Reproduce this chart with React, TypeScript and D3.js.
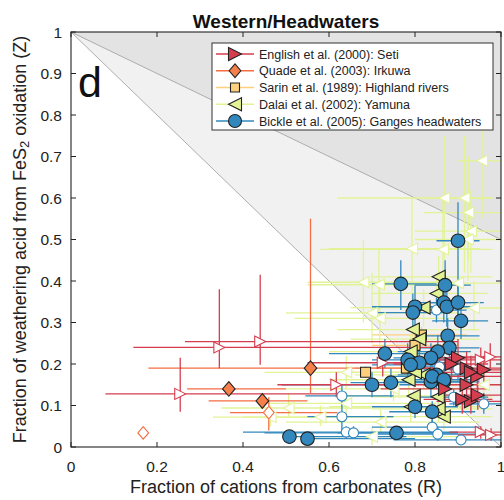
import React from "react";
import * as d3 from "d3";

// [R, Z, rLo, rHi, zLo, zHi]
type P = number[];

const englishFilled: P[] = [
  [0.90, 0.215, 0.80, 0.98, 0.17, 0.26],
  [0.92, 0.19, 0.78, 1.0, 0.15, 0.23],
  [0.96, 0.186, 0.88, 1.0, 0.15, 0.22],
  [0.945, 0.17, 0.85, 1.0, 0.13, 0.21],
  [0.93, 0.18, 0.82, 1.0, 0.14, 0.22],
  [0.92, 0.15, 0.80, 1.0, 0.11, 0.19],
  [0.93, 0.11, 0.85, 1.0, 0.08, 0.14],
  [0.91, 0.115, 0.82, 0.98, 0.08, 0.15],
  [0.946, 0.125, 0.86, 1.0, 0.09, 0.16],
  [0.885, 0.2, 0.75, 0.97, 0.16, 0.24],
  [0.87, 0.14, 0.72, 0.97, 0.1, 0.18],
];
const englishOpen: P[] = [
  [0.254, 0.128, 0.08, 0.62, 0.085, 0.215],
  [0.345, 0.24, 0.145, 0.85, 0.19, 0.38],
  [0.44, 0.254, 0.265, 0.9, 0.198, 0.415],
  [0.617, 0.15, 0.48, 0.75, 0.12, 0.18],
  [0.725, 0.203, 0.55, 0.9, 0.17, 0.24],
  [0.953, 0.21, 0.85, 1.0, 0.18, 0.24],
  [0.975, 0.217, 0.88, 1.0, 0.19, 0.25],
  [0.953, 0.036, 0.88, 1.0, 0.02, 0.05],
  [0.977, 0.029, 0.9, 1.0, 0.015, 0.045],
];
const quadeFilled: P[] = [
  [0.367, 0.14, 0.27, 0.5, 0.125, 0.155],
  [0.445, 0.111, 0.32, 0.55, 0.095, 0.125],
  [0.557, 0.19, 0.18, 0.85, 0.13, 0.55],
];
const quadeOpen: P[] = [
  [0.168, 0.034, 0.168, 0.168, 0.034, 0.034],
  [0.46, 0.083, 0.37, 0.62, 0.04, 0.12],
];
const sarinFilled: P[] = [
  [0.685, 0.18, 0.6, 0.78, 0.165, 0.195],
  [0.80, 0.245, 0.7, 0.9, 0.22, 0.27],
  [0.815, 0.27, 0.7, 0.92, 0.25, 0.29],
  [0.78, 0.19, 0.66, 0.9, 0.17, 0.21],
];
const dalaiFilled: P[] = [
  [0.855, 0.41, 0.7, 0.98, 0.36, 0.46],
  [0.85, 0.37, 0.7, 0.97, 0.32, 0.42],
  [0.82, 0.336, 0.65, 0.95, 0.29, 0.38],
  [0.795, 0.283, 0.62, 0.95, 0.24, 0.33],
  [0.81, 0.26, 0.65, 0.95, 0.22, 0.30],
  [0.79, 0.23, 0.6, 0.93, 0.19, 0.27],
  [0.785, 0.162, 0.6, 0.95, 0.12, 0.2],
  [0.797, 0.123, 0.62, 0.95, 0.09, 0.16],
  [0.79, 0.097, 0.6, 0.95, 0.06, 0.13],
  [0.853, 0.121, 0.7, 0.98, 0.09, 0.16],
  [0.867, 0.073, 0.72, 0.98, 0.04, 0.11],
  [0.855, 0.092, 0.7, 0.98, 0.06, 0.13],
  [0.82, 0.174, 0.66, 0.96, 0.14, 0.21],
  [0.80, 0.18, 0.64, 0.95, 0.15, 0.21],
];
const dalaiOpen: P[] = [
  [0.956, 0.69, 0.9, 1.0, 0.55, 0.82],
  [0.868, 0.60, 0.62, 0.98, 0.45, 0.75],
  [0.915, 0.60, 0.82, 0.98, 0.42, 0.75],
  [0.924, 0.565, 0.82, 1.0, 0.45, 0.7],
  [0.93, 0.52, 0.8, 1.0, 0.42, 0.62],
  [0.923, 0.50, 0.8, 1.0, 0.4, 0.62],
  [0.793, 0.478, 0.6, 0.95, 0.35, 0.6],
  [0.865, 0.476, 0.58, 0.98, 0.36, 0.6],
  [0.68, 0.397, 0.55, 0.9, 0.3, 0.5],
  [0.716, 0.391, 0.55, 0.92, 0.3, 0.48],
  [0.70, 0.323, 0.5, 0.9, 0.25, 0.42],
  [0.718, 0.31, 0.52, 0.9, 0.24, 0.4],
  [0.937, 0.335, 0.8, 1.0, 0.28, 0.4],
  [0.90, 0.395, 0.75, 1.0, 0.32, 0.46],
  [0.506, 0.094, 0.35, 0.7, 0.07, 0.13],
  [0.58, 0.072, 0.4, 0.75, 0.05, 0.1],
  [0.464, 0.072, 0.33, 0.6, 0.05, 0.1],
  [0.64, 0.18, 0.45, 0.85, 0.14, 0.22],
  [0.70, 0.025, 0.5, 0.9, 0.005, 0.05],
  [0.64, 0.105, 0.45, 0.85, 0.08, 0.13],
  [0.75, 0.14, 0.5, 0.95, 0.11, 0.17],
  [0.72, 0.06, 0.5, 0.95, 0.035, 0.09],
  [0.96, 0.15, 0.85, 1.0, 0.12, 0.18],
];
const bickleFilled: P[] = [
  [0.508, 0.025, 0.5, 0.78, 0.02, 0.03],
  [0.55, 0.02, 0.54, 0.8, 0.015, 0.025],
  [0.757, 0.034, 0.62, 0.9, 0.02, 0.05],
  [0.80, 0.097, 0.7, 0.9, 0.07, 0.13],
  [0.84, 0.085, 0.74, 0.94, 0.06, 0.11],
  [0.767, 0.393, 0.7, 0.85, 0.33, 0.45],
  [0.87, 0.39, 0.8, 0.93, 0.33, 0.45],
  [0.80, 0.338, 0.7, 0.88, 0.29, 0.39],
  [0.795, 0.324, 0.7, 0.88, 0.28, 0.37],
  [0.867, 0.348, 0.8, 0.93, 0.3, 0.4],
  [0.874, 0.338, 0.8, 0.94, 0.29, 0.39],
  [0.90, 0.348, 0.83, 0.96, 0.3, 0.4],
  [0.907, 0.304, 0.84, 0.97, 0.26, 0.35],
  [0.876, 0.268, 0.8, 0.95, 0.23, 0.31],
  [0.88, 0.239, 0.8, 0.95, 0.2, 0.28],
  [0.73, 0.225, 0.6, 0.85, 0.19, 0.26],
  [0.853, 0.23, 0.76, 0.93, 0.19, 0.27],
  [0.837, 0.215, 0.75, 0.92, 0.18, 0.25],
  [0.783, 0.21, 0.7, 0.87, 0.17, 0.25],
  [0.81, 0.203, 0.72, 0.9, 0.17, 0.24],
  [0.79, 0.198, 0.7, 0.88, 0.16, 0.24],
  [0.70, 0.15, 0.49, 0.8, 0.12, 0.18],
  [0.744, 0.155, 0.65, 0.84, 0.12, 0.19],
  [0.837, 0.157, 0.75, 0.92, 0.12, 0.19],
  [0.85, 0.174, 0.76, 0.93, 0.14, 0.21],
  [0.867, 0.157, 0.78, 0.95, 0.12, 0.19],
  [0.90, 0.497, 0.85, 0.95, 0.3, 0.59],
  [0.84, 0.17, 0.75, 0.93, 0.14, 0.2],
  [0.867, 0.162, 0.78, 0.95, 0.13, 0.19],
];
const bickleOpen: P[] = [
  [0.63, 0.123, 0.545, 0.75, 0.1, 0.15],
  [0.63, 0.073, 0.55, 0.75, 0.036, 0.123],
  [0.64, 0.036, 0.4, 0.9, 0.02, 0.05],
  [0.657, 0.034, 0.45, 0.9, 0.02, 0.05],
  [0.84, 0.048, 0.7, 0.95, 0.03, 0.07],
  [0.853, 0.031, 0.7, 0.97, 0.015, 0.05],
  [0.907, 0.017, 0.75, 1.0, 0.005, 0.03],
  [0.89, 0.12, 0.8, 0.97, 0.1, 0.14],
  [0.96, 0.104, 0.88, 1.0, 0.08, 0.13],
  [0.85, 0.33, 0.78, 0.92, 0.3, 0.36],
  [0.857, 0.193, 0.78, 0.93, 0.17, 0.22],
  [0.90, 0.188, 0.82, 0.97, 0.16, 0.22],
];

const legendLabels = [
  "English et al. (2000): Seti",
  "Quade et al. (2003): Irkuwa",
  "Sarin et al. (1989): Highland rivers",
  "Dalai et al. (2002): Yamuna",
  "Bickle et al. (2005): Ganges headwaters",
];
const ticks = [0, 0.1, 0.2, 0.3, 0.4, 0.5, 0.6, 0.7, 0.8, 0.9, 1];
const xTicks = [0, 0.2, 0.4, 0.6, 0.8, 1];

const C = {
  red: "#d53e4f",
  orange: "#f46d43",
  orangeFill: "#f5804b",
  sarin: "#fdd07e",
  dalai: "#e2f396",
  blue: "#3288bd",
};

const FONT = "'Liberation Sans', Arial, Helvetica, sans-serif";

function markerPath(shape: string, s: number): string {
  switch (shape) {
    case "right":
      return `M${-s},${-s}L${s},0L${-s},${s}Z`;
    case "left":
      return `M${s},${-s}L${-s},0L${s},${s}Z`;
    case "diamond":
      return `M0,${-s * 1.05}L${s * 0.9},0L0,${s * 1.05}L${-s * 0.9},0Z`;
    case "square":
      return `M${-s},${-s}H${s}V${s}H${-s}Z`;
    default: {
      const p = d3.path();
      p.arc(0, 0, s, 0, Math.PI * 2);
      p.closePath();
      return p.toString();
    }
  }
}

export default function App() {
  const W = 504, H = 500;
  const L = 71, R = 501, T = 32, B = 447;
  const x = d3.scaleLinear().domain([0, 1]).range([L, R]);
  const y = d3.scaleLinear().domain([0, 1]).range([B, T]);

  const series = [
    { open: englishOpen, filled: englishFilled, color: C.red, fill: C.red, shape: "right", sF: 6.5, sO: 5.5 },
    { open: quadeOpen, filled: quadeFilled, color: C.orange, fill: C.orangeFill, shape: "diamond", sF: 7, sO: 6 },
    { open: [] as P[], filled: sarinFilled, color: C.sarin, fill: C.sarin, shape: "square", sF: 5, sO: 4 },
    { open: dalaiOpen, filled: dalaiFilled, color: C.dalai, fill: C.dalai, shape: "left", sF: 6.5, sO: 5.5 },
    { open: bickleOpen, filled: bickleFilled, color: C.blue, fill: C.blue, shape: "circle", sF: 6.8, sO: 5 },
  ];

  const bars = (pts: P[], color: string, key: string) =>
    pts.map((p, i) => (
      <g key={key + i} stroke={color} strokeWidth={1.3} fill="none">
        <line x1={x(p[2])} x2={x(p[3])} y1={y(p[1])} y2={y(p[1])} />
        <line x1={x(p[0])} x2={x(p[0])} y1={y(p[4])} y2={y(p[5])} />
      </g>
    ));

  const markers = (pts: P[], shape: string, s: number, fill: string, stroke: string, key: string) =>
    pts.map((p, i) => (
      <path
        key={key + i}
        d={markerPath(shape, s)}
        transform={`translate(${x(p[0])},${y(p[1])})`}
        fill={fill}
        stroke={stroke}
        strokeWidth={1.1}
      />
    ));

  const drawOrder = [2, 3, 4, 1, 0];

  const legendX = 212, legendY = 43, legendW = 281, legendH = 87;
  const rowY = (i: number) => legendY + 11 + i * 16.75;

  return (
    <svg width={W} height={H} style={{ position: "absolute", left: 0, top: 0 }} fontFamily={FONT}>
      <rect x={0} y={0} width={W} height={H} fill="#fff" />
      <defs>
        <clipPath id="plotclip">
          <rect x={L} y={T} width={R - L} height={B - T} />
        </clipPath>
      </defs>
      {/* shaded regions */}
      <path d={`M${x(0)},${y(1)}L${x(1)},${y(1)}L${x(1)},${y(0.5)}Z`} fill="#e3e3e3" />
      <path d={`M${x(0)},${y(1)}L${x(1)},${y(0.5)}L${x(1)},${y(0)}Z`} fill="#f1f1f1" />
      <line x1={x(0)} y1={y(1)} x2={x(1)} y2={y(0.5)} stroke="#9a9a9a" strokeWidth={0.8} />
      <line x1={x(0)} y1={y(1)} x2={x(1)} y2={y(0)} stroke="#9a9a9a" strokeWidth={0.8} />

      <g clipPath="url(#plotclip)">
        {drawOrder.map((k) => (
          <g key={"b" + k}>
            {bars(series[k].open, series[k].color, "bo" + k)}
            {bars(series[k].filled, series[k].color, "bf" + k)}
          </g>
        ))}
      </g>
      {drawOrder.map((k) => (
        <g key={"mo" + k}>
          {markers(series[k].open, series[k].shape, series[k].sO, "#fff", series[k].color, "o" + k)}
        </g>
      ))}
      {drawOrder.map((k) => (
        <g key={"mf" + k}>
          {markers(series[k].filled, series[k].shape, series[k].sF, series[k].fill, "#222", "f" + k)}
        </g>
      ))}

      {/* axes box */}
      <rect x={L} y={T} width={R - L} height={B - T} fill="none" stroke="#222" strokeWidth={1.1} />
      {ticks.map((t) => (
        <g key={"yt" + t} stroke="#222" strokeWidth={1}>
          <line x1={L} x2={L + 5} y1={y(t)} y2={y(t)} />
          <line x1={R} x2={R - 5} y1={y(t)} y2={y(t)} />
        </g>
      ))}
      {xTicks.map((t) => (
        <g key={"xt" + t} stroke="#222" strokeWidth={1}>
          <line x1={x(t)} x2={x(t)} y1={B} y2={B - 5} />
          <line x1={x(t)} x2={x(t)} y1={T} y2={T + 5} />
        </g>
      ))}
      {ticks.map((t) => (
        <text key={"yl" + t} x={L - 9} y={y(t) + 5.5} textAnchor="end" fontSize={15.5} fill="#222">
          {String(t)}
        </text>
      ))}
      {xTicks.map((t) => (
        <text key={"xl" + t} x={x(t)} y={B + 25} textAnchor="middle" fontSize={15.5} fill="#222">
          {String(t)}
        </text>
      ))}
      <text x={(L + R) / 2} y={B + 46} textAnchor="middle" fontSize={18} fill="#222">
        Fraction of cations from carbonates (R)
      </text>
      <text
        transform={`translate(${26},${(T + B) / 2}) rotate(-90)`}
        textAnchor="middle"
        fontSize={18}
        fill="#222"
      >
        Fraction of weathering acid from FeS
        <tspan baselineShift="-25%" fontSize={13}>2</tspan>
        <tspan> oxidation (Z)</tspan>
      </text>
      <text x={(L + R) / 2} y={28} textAnchor="middle" fontSize={19} fontWeight="bold" fill="#111">
        Western/Headwaters
      </text>
      <text x={78} y={97} fontSize={43} fill="#111">
        d
      </text>

      {/* legend */}
      <rect x={legendX} y={legendY} width={legendW} height={legendH} fill="#fff" stroke="#333" strokeWidth={1} />
      {series.map((s, i) => (
        <g key={"lg" + i}>
          <line x1={legendX + 4} x2={legendX + 42} y1={rowY(i)} y2={rowY(i)} stroke={s.color} strokeWidth={1.5} />
          <path
            d={markerPath(s.shape, s.shape === "square" ? 4.5 : 6.5)}
            transform={`translate(${legendX + 23},${rowY(i)})`}
            fill={s.fill}
            stroke="#222"
            strokeWidth={1.1}
          />
          <text x={legendX + 47} y={rowY(i) + 4.5} fontSize={12.5} fill="#222">
            {legendLabels[i]}
          </text>
        </g>
      ))}
    </svg>
  );
}
